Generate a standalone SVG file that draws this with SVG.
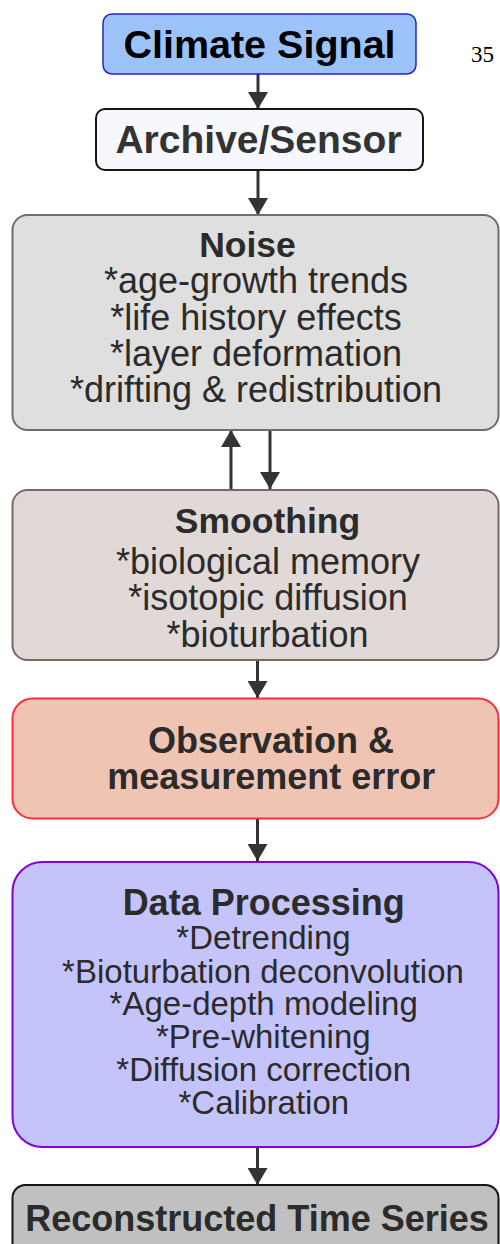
<svg xmlns="http://www.w3.org/2000/svg" width="500" height="1244" viewBox="0 0 500 1244">
<style>
.b{font-family:"Liberation Sans",Arial,sans-serif;font-weight:bold;text-anchor:middle;fill:#2b2b2b}
.r{font-family:"Liberation Sans",Arial,sans-serif;text-anchor:middle;fill:#2b2b2b}
.c{stroke:#333;stroke-width:3;fill:none;marker-end:url(#ah)}
</style>
<defs>
<marker id="ah" markerUnits="userSpaceOnUse" viewBox="0 0 17 20" refX="17" refY="10" markerWidth="17" markerHeight="20" orient="auto">
<path d="M0,0 L17,10 L0,20 Z" fill="#333"/>
</marker>
</defs>
<rect width="500" height="1244" fill="#fff"/>
<g id="connectors">
<path class="c" d="M258,74 V109"/>
<path class="c" d="M258,170 V215"/>
<path class="c" d="M231,490 V430"/>
<path class="c" d="M270,430 V489"/>
<path class="c" d="M257.5,660 V698"/>
<path class="c" d="M257.5,818 V861"/>
<path class="c" d="M257.5,1147 V1185"/>
</g>
<g id="climate">
<rect x="103" y="14" width="313" height="60" rx="9" fill="#9cc3f9" stroke="#2424cc" stroke-width="1.5"/>
<text class="b" x="259.5" y="58" font-size="39.5" style="fill:#000">Climate Signal</text>
</g>
<g id="archive">
<rect x="96" y="109" width="327" height="61" rx="9" fill="#f7f8fe" stroke="#151515" stroke-width="2"/>
<text class="b" x="258.5" y="153" font-size="39" style="fill:#333">Archive/Sensor</text>
</g>
<g id="noise">
<rect x="12.5" y="215" width="486" height="215" rx="15" fill="#dfdfdf" stroke="#6e6e6e" stroke-width="2"/>
<text class="b" x="247.5" y="257" font-size="35.5">Noise</text>
<text class="r" x="256" y="293" font-size="36">*age-growth trends</text>
<text class="r" x="256" y="329.5" font-size="36">*life history effects</text>
<text class="r" x="256" y="366" font-size="36">*layer deformation</text>
<text class="r" x="256" y="402" font-size="36">*drifting &amp; redistribution</text>
</g>
<g id="smoothing">
<rect x="12.5" y="490" width="486" height="170" rx="15" fill="#e0d9d7" stroke="#766a68" stroke-width="2"/>
<text class="b" x="267.5" y="533" font-size="35.5">Smoothing</text>
<text class="r" x="268" y="573.5" font-size="36">*biological memory</text>
<text class="r" x="268" y="610" font-size="36">*isotopic diffusion</text>
<text class="r" x="267.5" y="647" font-size="36">*bioturbation</text>
</g>
<g id="observation">
<rect x="12.5" y="698.5" width="486" height="120" rx="20" fill="#f0c4b3" stroke="#ff2d3c" stroke-width="2"/>
<text class="b" x="271" y="753" font-size="36">Observation &amp;</text>
<text class="b" x="271.3" y="788.5" font-size="36">measurement error</text>
</g>
<g id="processing">
<rect x="12.5" y="862" width="486" height="285" rx="30" fill="#c4c4fb" stroke="#8000e0" stroke-width="2"/>
<text class="b" x="263.7" y="915" font-size="36">Data Processing</text>
<text class="r" x="263.5" y="949" font-size="33">*Detrending</text>
<text class="r" x="263" y="982.7" font-size="33">*Bioturbation deconvolution</text>
<text class="r" x="263.7" y="1015" font-size="33">*Age-depth modeling</text>
<text class="r" x="263.3" y="1048.3" font-size="33">*Pre-whitening</text>
<text class="r" x="263.7" y="1081" font-size="33">*Diffusion correction</text>
<text class="r" x="263.8" y="1114" font-size="33">*Calibration</text>
</g>
<g id="reconstructed">
<rect x="12.5" y="1185" width="486" height="80" rx="13" fill="#c0c0c0" stroke="#151515" stroke-width="2"/>
<text class="b" x="257" y="1231" font-size="36">Reconstructed Time Series</text>
</g>
<text x="471" y="62" font-family="'Liberation Serif','Times New Roman',serif" font-size="23" fill="#000">35</text>
</svg>
